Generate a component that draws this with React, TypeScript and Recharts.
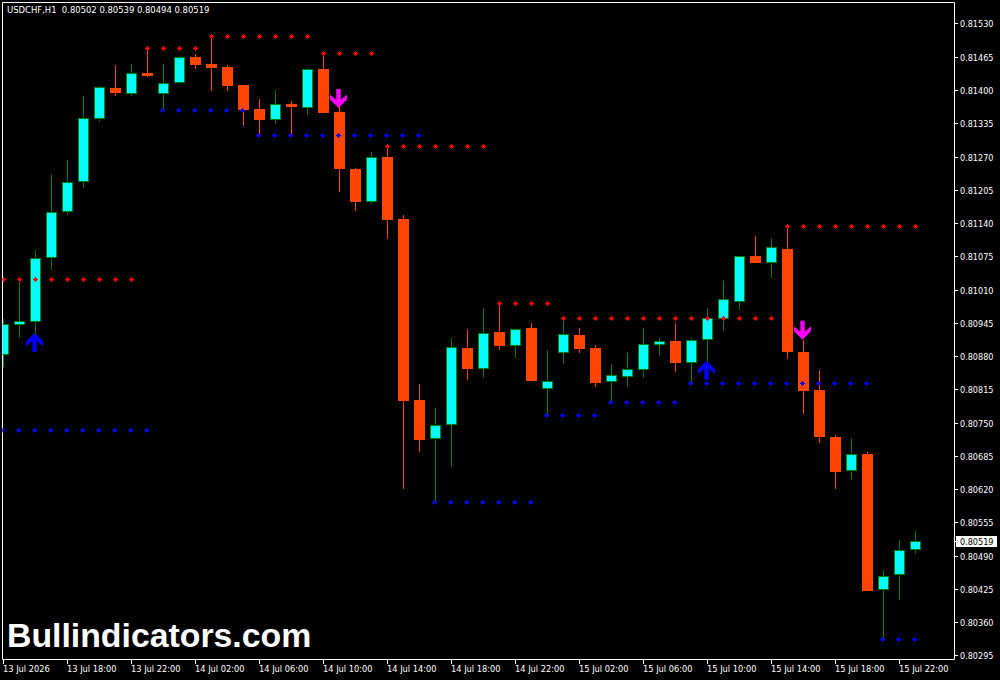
import { ComposedChart, Bar, Line, XAxis, YAxis, ReferenceArea } from "recharts";

const opens = [
  0.80883, 0.80942, 0.80948, 0.81073, 0.81163, 0.81221, 0.81344, 0.81405, 0.81393, 0.81434,
  0.81393, 0.81415, 0.81466, 0.81452, 0.81446, 0.81411, 0.81364, 0.81342, 0.81374, 0.81366,
  0.81442, 0.81358, 0.81247, 0.81182, 0.8127, 0.81149, 0.80795, 0.80719, 0.80746, 0.80897,
  0.80856, 0.80928, 0.80901, 0.80936, 0.80817, 0.80887, 0.80922, 0.80897, 0.8083, 0.8084,
  0.80854, 0.80903, 0.80911, 0.80868, 0.80913, 0.80954, 0.80987, 0.81077, 0.81063, 0.8109,
  0.80889, 0.80815, 0.80723, 0.80657, 0.8069, 0.80424, 0.80453, 0.80502,
];
const closes = [
  0.80944, 0.8095, 0.81073, 0.81163, 0.81221, 0.81346, 0.81407, 0.81395, 0.81434, 0.81428,
  0.81415, 0.81466, 0.8145, 0.81444, 0.81409, 0.81362, 0.81342, 0.81374, 0.81368, 0.81442,
  0.81356, 0.81247, 0.81182, 0.8127, 0.81147, 0.80793, 0.80717, 0.80746, 0.80899, 0.80856,
  0.80926, 0.80901, 0.80934, 0.80832, 0.80832, 0.80924, 0.80895, 0.80829, 0.80844, 0.80856,
  0.80905, 0.80911, 0.80868, 0.80913, 0.80956, 0.80993, 0.81077, 0.81063, 0.81094, 0.80889,
  0.80813, 0.80723, 0.80655, 0.8069, 0.80422, 0.80451, 0.80502, 0.80519,
];
const highs = [
  0.80954, 0.8103, 0.81088, 0.81237, 0.81264, 0.81389, 0.81408, 0.8145, 0.81452, 0.81483,
  0.81452, 0.81468, 0.81471, 0.81507, 0.8145, 0.81411, 0.81383, 0.81401, 0.8138, 0.81444,
  0.81473, 0.81368, 0.81249, 0.8128, 0.8129, 0.81157, 0.80827, 0.8078, 0.80916, 0.80934,
  0.80975, 0.80985, 0.80936, 0.80946, 0.80893, 0.80956, 0.80936, 0.80903, 0.80866, 0.80887,
  0.80936, 0.80916, 0.80946, 0.80916, 0.80975, 0.81028, 0.81077, 0.81116, 0.81112, 0.81135,
  0.80913, 0.80854, 0.80727, 0.80721, 0.80694, 0.80463, 0.80522, 0.80539,
];
const lows = [
  0.8086, 0.80916, 0.80922, 0.81049, 0.81157, 0.8121, 0.81339, 0.81389, 0.81389, 0.81426,
  0.81362, 0.81413, 0.81442, 0.81399, 0.81399, 0.81331, 0.81313, 0.81335, 0.81313, 0.81352,
  0.81356, 0.81202, 0.81165, 0.81178, 0.8111, 0.80621, 0.80694, 0.80596, 0.80664, 0.80834,
  0.80838, 0.80893, 0.80877, 0.80832, 0.80766, 0.80866, 0.80887, 0.80821, 0.80791, 0.80821,
  0.80838, 0.80881, 0.8085, 0.80829, 0.80866, 0.8093, 0.80971, 0.81063, 0.81034, 0.80875,
  0.80768, 0.80711, 0.80621, 0.80641, 0.80422, 0.80328, 0.80404, 0.80494,
];
const resistance = [
  0.81032, 0.81032, 0.81032, 0.81032, 0.81032, 0.81032, 0.81032, 0.81032, 0.81032,
  0.81483, 0.81483, 0.81483, 0.81483,
  0.81507, 0.81507, 0.81507, 0.81507, 0.81507, 0.81507, 0.81507,
  0.81473, 0.81473, 0.81473, 0.81473,
  0.81292, 0.81292, 0.81292, 0.81292, 0.81292, 0.81292, 0.81292,
  0.80985, 0.80985, 0.80985, 0.80985,
  0.80956, 0.80956, 0.80956, 0.80956, 0.80956, 0.80956, 0.80956,
  0.80956, 0.80956, 0.80956, 0.80956, 0.80956, 0.80956, 0.80956,
  0.81135, 0.81135, 0.81135, 0.81135, 0.81135, 0.81135, 0.81135, 0.81135, 0.81135,
];
const support = [
  0.80737, 0.80737, 0.80737, 0.80737, 0.80737, 0.80737, 0.80737, 0.80737, 0.80737, 0.80737,
  0.81362, 0.81362, 0.81362, 0.81362, 0.81362, 0.81362,
  0.81313, 0.81313, 0.81313, 0.81313, 0.81313, 0.81313, 0.81313, 0.81313, 0.81313, 0.81313, 0.81313,
  0.80596, 0.80596, 0.80596, 0.80596, 0.80596, 0.80596, 0.80596,
  0.80766, 0.80766, 0.80766, 0.80766,
  0.80791, 0.80791, 0.80791, 0.80791, 0.80791,
  0.80829, 0.80829, 0.80829, 0.80829, 0.80829, 0.80829, 0.80829, 0.80829, 0.80829, 0.80829, 0.80829, 0.80829,
  0.80328, 0.80328, 0.80328,
];
// bar index -> price of the arrow tip
const buyArrows: Record<number, number> = { 2: 0.80926, 44: 0.80872 };
const sellArrows: Record<number, number> = { 21: 0.81366, 50: 0.80913 };

const priceTicks = [
  0.8153, 0.81465, 0.814, 0.81335, 0.8127, 0.81205, 0.8114, 0.81075, 0.8101, 0.80945,
  0.8088, 0.80815, 0.8075, 0.80685, 0.8062, 0.80555, 0.8049, 0.80425, 0.8036, 0.80295,
];
const lastPrice = 0.80519;
const timeTicks = [0, 4, 8, 12, 16, 20, 24, 28, 32, 36, 40, 44, 48, 52, 56];
const timeLabels = [
  "13 Jul 2026", "13 Jul 18:00", "13 Jul 22:00", "14 Jul 02:00", "14 Jul 06:00",
  "14 Jul 10:00", "14 Jul 14:00", "14 Jul 18:00", "14 Jul 22:00", "15 Jul 02:00",
  "15 Jul 06:00", "15 Jul 10:00", "15 Jul 14:00", "15 Jul 18:00", "15 Jul 22:00",
];

const chartData = opens.map((open, i) => ({
  i,
  open,
  close: closes[i],
  range: [lows[i], highs[i]],
  resistance: resistance[i],
  support: support[i],
  buy: buyArrows[i] ?? null,
  sell: sellArrows[i] ?? null,
}));

const UI_FONT = "'DejaVu Sans Condensed', 'DejaVu Sans', sans-serif";
const BULL = "#00FFFF";
const BEAR = "#FF4500";
const BULL_EDGE = "#008000";

function Candle(props: any) {
  const { x, y, width, height, payload } = props;
  const cx = x + width / 2;
  const [low, high] = payload.range;
  const toY = (p: number) => y + ((high - p) / (high - low)) * height;
  const isBull = payload.close >= payload.open;
  const top = Math.round(toY(Math.max(payload.open, payload.close)));
  const bottom = Math.round(toY(Math.min(payload.open, payload.close)));
  const edge = isBull ? BULL_EDGE : BEAR;
  return (
    <g shapeRendering="crispEdges">
      <rect x={cx - 0.5} y={y} width={1} height={height} fill={edge} />
      <rect
        x={cx - 5}
        y={top + 0.5}
        width={10}
        height={Math.max(bottom - top - 1, 1)}
        fill={isBull ? BULL : BEAR}
        stroke={edge}
        strokeWidth={1}
      />
    </g>
  );
}

// small pixel diamond used for the support and resistance levels
function levelDot(color: string, dx: number) {
  return (props: any) => {
    const { cx, cy, index } = props;
    if (cy == null) return <g key={index} />;
    const px = Math.floor(cx) + dx;
    const py = Math.round(cy);
    return (
      <g key={index} fill={color} shapeRendering="crispEdges">
        <rect x={px} y={py - 2} width={1} height={5} />
        <rect x={px - 1} y={py - 1} width={3} height={3} />
        <rect x={px - 2} y={py} width={5} height={1} />
      </g>
    );
  };
}

function arrowDot(color: string, dir: 1 | -1) {
  return (props: any) => {
    const { cx, cy, index } = props;
    if (cy == null) return <g key={index} />;
    const d = [
      [0, 0], [8.5, 8.5], [8.5, 13.5], [2.2, 8], [2.2, 19], [-2.2, 19], [-2.2, 8], [-8.5, 13.5], [-8.5, 8.5],
    ]
      .map(([a, b]) => `${cx - 1 + a},${cy + dir * b}`)
      .join(" ");
    return <polygon key={index} points={d} fill={color} />;
  };
}

function PriceTick(props: any) {
  const { y, payload } = props;
  const py = Math.floor(y) + 0.5;
  if (payload.value === lastPrice) {
    return (
      <g>
        <rect x={956} y={py - 5.5} width={41} height={11} fill="#fff" />
        <line x1={955} x2={958} y1={py} y2={py} stroke="#fff" />
        <text x={960} y={py + 3.5} fontSize={9} fontFamily={UI_FONT} fill="#000">
          {payload.value.toFixed(5)}
        </text>
      </g>
    );
  }
  return (
    <g>
      <line x1={955} x2={958} y1={py} y2={py} stroke="#fff" />
      <text x={960} y={py + 3.5} fontSize={9} fontFamily={UI_FONT} fill="#fff">
        {payload.value.toFixed(5)}
      </text>
    </g>
  );
}

function TimeTick(props: any) {
  const { x, payload } = props;
  const label = timeLabels[timeTicks.indexOf(payload.value)];
  return (
    <g>
      <line x1={x} x2={x} y1={660} y2={664} stroke="#fff" />
      <text x={x - 0.5} y={672} fontSize={9.2} fontFamily={UI_FONT} fill="#fff">
        {label}
      </text>
    </g>
  );
}

export default function App() {
  return (
    <div style={{ position: "absolute", left: 0, top: 0, width: 1000, height: 680, background: "#000", overflow: "hidden" }}>
      <ComposedChart
        width={1000}
        height={680}
        data={chartData}
        margin={{ top: 2.5, right: 0, bottom: 0, left: 2.5 }}
      >
        <XAxis
          dataKey="i"
          type="number"
          domain={[-0.0625, 59.4375]}
          allowDataOverflow
          ticks={timeTicks}
          interval={0}
          tick={<TimeTick />}
          tickLine={false}
          axisLine={false}
          height={20.5}
        />
        <YAxis
          orientation="right"
          type="number"
          domain={[0.80288, 0.81572]}
          allowDataOverflow
          ticks={[...priceTicks, lastPrice]}
          interval={0}
          tick={<PriceTick />}
          tickLine={false}
          axisLine={false}
          width={45.5}
        />
        <Bar dataKey="range" barSize={11} shape={<Candle />} isAnimationActive={false} />
        <Line dataKey="resistance" stroke="none" dot={levelDot("#FF0000", 0)} isAnimationActive={false} />
        <Line dataKey="support" stroke="none" dot={levelDot("#0000FF", -1)} isAnimationActive={false} />
        <Line dataKey="buy" stroke="none" dot={arrowDot("#0000FF", 1)} isAnimationActive={false} />
        <Line dataKey="sell" stroke="none" dot={arrowDot("#FF00FF", -1)} isAnimationActive={false} />
        <ReferenceArea
          x1={-0.0625}
          x2={59.4375}
          y1={0.80288}
          y2={0.81572}
          fill="none"
          stroke="#fff"
          strokeWidth={1}
          ifOverflow="visible"
        />
      </ComposedChart>
      <div style={{ position: "absolute", left: 7, top: 4, fontFamily: UI_FONT, fontSize: 9.4, lineHeight: "12px", color: "#fff", whiteSpace: "pre" }}>
        {"USDCHF,H1  0.80502 0.80539 0.80494 0.80519"}
      </div>
      <div style={{ position: "absolute", left: 7, top: 616, fontFamily: "'Liberation Sans', sans-serif", fontWeight: 700, fontSize: 33.8, lineHeight: "38px", color: "#fff", whiteSpace: "pre" }}>
        Bullindicators.com
      </div>
    </div>
  );
}
